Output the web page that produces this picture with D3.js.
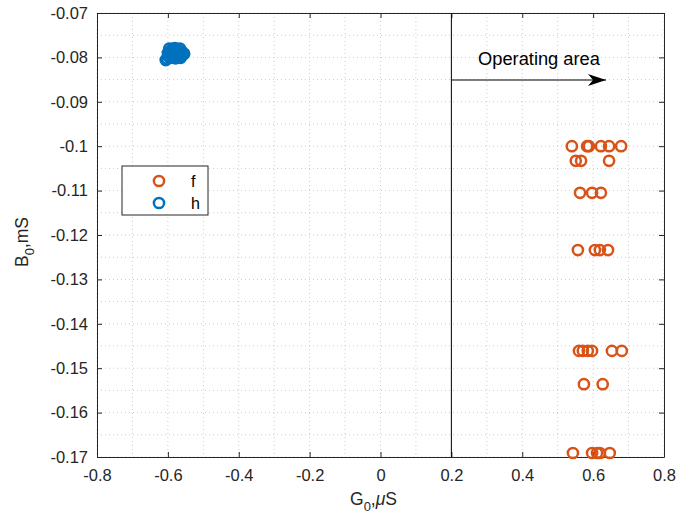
<!DOCTYPE html>
<html>
<head>
<meta charset="utf-8">
<script src="https://cdn.jsdelivr.net/npm/d3@7"></script>
<style>
  body { margin: 0; background: #fff; }
  text { font-family: "Liberation Sans", Arial, sans-serif; }
</style>
</head>
<body>
<svg id="chart" width="682" height="524"></svg>
<script>
// data (G0 in uS, B0 in mS)
var fG = [0.540, 0.583, 0.588, 0.622, 0.645, 0.679,
          0.551, 0.566, 0.645,
          0.563, 0.597, 0.622,
          0.557, 0.605, 0.619, 0.642,
          0.560, 0.571, 0.585, 0.597, 0.653, 0.681,
          0.574, 0.627,
          0.543, 0.597, 0.611, 0.619, 0.647]
var fB = [-0.1, -0.1, -0.1, -0.1, -0.1, -0.1,
          -0.1033, -0.1033, -0.1033,
          -0.1105, -0.1105, -0.1105,
          -0.1234, -0.1234, -0.1234, -0.1234,
          -0.1461, -0.1461, -0.1461, -0.1461, -0.1461, -0.1461,
          -0.1536, -0.1536,
          -0.1691, -0.1691, -0.1691, -0.1691, -0.1691]
var hG = [-0.600, -0.595, -0.590, -0.585, -0.580, -0.575, -0.570, -0.565, -0.560,
          -0.598, -0.590, -0.582, -0.576, -0.568, -0.560, -0.554,
          -0.602, -0.594, -0.586, -0.578, -0.572, -0.564,
          -0.596, -0.588, -0.580, -0.574, -0.566, -0.606]
var hB = [-0.0790, -0.0788, -0.0786, -0.0787, -0.0785, -0.0788, -0.0786, -0.0789, -0.0787,
          -0.0798, -0.0796, -0.0795, -0.0797, -0.0794, -0.0796, -0.0792,
          -0.0803, -0.0801, -0.0800, -0.0802, -0.0799, -0.0801,
          -0.0780, -0.0781, -0.0779, -0.0782, -0.0780, -0.0806]
var xTicks = [-0.8, -0.6, -0.4, -0.2, 0, 0.2, 0.4, 0.6, 0.8]
var yTicks = [-0.17, -0.16, -0.15, -0.14, -0.13, -0.12, -0.11, -0.1, -0.09, -0.08, -0.07]
var boundary = 0.2

var svg = d3.select('#chart')
var pLeft = 97, pRight = 664, pTop = 13, pBottom = 457
var axisCol = '#262626'

var x = d3.scaleLinear().domain([-0.8, 0.8]).range([pLeft, pRight])
var y = d3.scaleLinear().domain([-0.17, -0.07]).range([pBottom, pTop])

// grid: major + minor, dotted
var xMinor = d3.range(-0.8, 0.8001, 0.1)
var yMinor = d3.range(-0.17, -0.0699, 0.005)
var grid = svg.append('g')
grid.selectAll('line.gx').data(xMinor).enter().append('line')
  .attr('x1', d => x(d)).attr('x2', d => x(d)).attr('y1', pTop).attr('y2', pBottom)
  .attr('stroke', '#cdcdcd').attr('stroke-width', 1).attr('stroke-dasharray', '1,3')
grid.selectAll('line.gy').data(yMinor).enter().append('line')
  .attr('y1', d => y(d)).attr('y2', d => y(d)).attr('x1', pLeft).attr('x2', pRight)
  .attr('stroke', '#cdcdcd').attr('stroke-width', 1).attr('stroke-dasharray', '1,3')

// axes
var fmt = d => d === 0 ? '0' : String(d)
var xAxis = svg.append('g').attr('transform', 'translate(0,' + pBottom + ')')
  .call(d3.axisBottom(x).tickValues(xTicks).tickFormat(fmt).tickSizeInner(-5).tickSizeOuter(0).tickPadding(12))
var yAxis = svg.append('g').attr('transform', 'translate(' + pLeft + ',0)')
  .call(d3.axisLeft(y).tickValues(yTicks).tickFormat(fmt).tickSizeInner(-5).tickSizeOuter(0).tickPadding(9))
;[xAxis, yAxis].forEach(function(a){
  a.select('.domain').attr('stroke', axisCol)
  a.selectAll('.tick line').attr('stroke', axisCol)
  a.selectAll('text').attr('fill', '#262626').style('font-size', '16.5px')
})
// top and right edges of the box
var xTop = svg.append('g').attr('transform', 'translate(0,' + pTop + ')')
  .call(d3.axisTop(x).tickValues(xTicks).tickFormat('').tickSizeInner(-5).tickSizeOuter(0))
var yRight = svg.append('g').attr('transform', 'translate(' + pRight + ',0)')
  .call(d3.axisRight(y).tickValues(yTicks).tickFormat('').tickSizeInner(-5).tickSizeOuter(0))
;[xTop, yRight].forEach(function(a){
  a.select('.domain').attr('stroke', axisCol)
  a.selectAll('.tick line').attr('stroke', axisCol)
})

// boundary of operating area
svg.append('line').attr('x1', x(boundary)).attr('x2', x(boundary))
  .attr('y1', pTop).attr('y2', pBottom).attr('stroke', 'black').attr('stroke-width', 1)

svg.append('defs').append('marker').attr('id', 'arr')
  .attr('viewBox', '0 0 18 12').attr('refX', 18).attr('refY', 6)
  .attr('markerWidth', 18).attr('markerHeight', 12).attr('markerUnits', 'userSpaceOnUse')
  .attr('orient', 'auto')
  .append('path').attr('d', 'M0,0 L18,6 L0,12 L5,6 Z').attr('fill', 'black')

svg.append('line').attr('x1', x(boundary)).attr('x2', 606)
  .attr('y1', 80).attr('y2', 80).attr('stroke', 'black').attr('stroke-width', 1)
  .attr('marker-end', 'url(#arr)')
svg.append('text').attr('x', 478).attr('y', 65).text('Operating area')
  .style('font-size', '18.3px').attr('fill', 'black')

// data markers
var orange = '#D95319', blue = '#0072BD'
svg.append('g').selectAll('circle').data(hG).enter().append('circle')
  .attr('cx', d => x(d)).attr('cy', (d, i) => y(hB[i])).attr('r', 5.1)
  .attr('fill', 'none').attr('stroke', blue).attr('stroke-width', 2.5)
svg.append('g').selectAll('circle').data(fG).enter().append('circle')
  .attr('cx', d => x(d)).attr('cy', (d, i) => y(fB[i])).attr('r', 5.1)
  .attr('fill', 'none').attr('stroke', orange).attr('stroke-width', 2.5)

// legend
var lg = svg.append('g')
lg.append('rect').attr('x', 122).attr('y', 166).attr('width', 86).attr('height', 49)
  .attr('fill', 'white').attr('stroke', axisCol).attr('stroke-width', 1)
var legendItems = [['f', orange], ['h', blue]]
legendItems.forEach(function(d, i){
  lg.append('circle').attr('cx', 159).attr('cy', 181 + i * 22).attr('r', 5.1)
    .attr('fill', 'none').attr('stroke', d[1]).attr('stroke-width', 2.5)
  lg.append('text').attr('x', 191).attr('y', 187 + i * 22).text(d[0])
    .style('font-size', '16px').attr('fill', 'black')
})

// axis titles
var xt = svg.append('text').attr('x', 350).attr('y', 505).attr('fill', '#262626').style('font-size', '17.5px')
xt.append('tspan').text('G')
xt.append('tspan').attr('dy', 6).style('font-size', '13px').text('0')
xt.append('tspan').attr('dy', -6).text(',')
xt.append('tspan').style('font-style', 'italic').text('\u03bc')
xt.append('tspan').text('S')

var yt = svg.append('text').attr('transform', 'translate(28,267) rotate(-90)')
  .attr('fill', '#262626').style('font-size', '17.5px')
yt.append('tspan').text('B')
yt.append('tspan').attr('dy', 6).style('font-size', '13px').text('0')
yt.append('tspan').attr('dy', -6).text(',mS')
</script>
</body>
</html>
